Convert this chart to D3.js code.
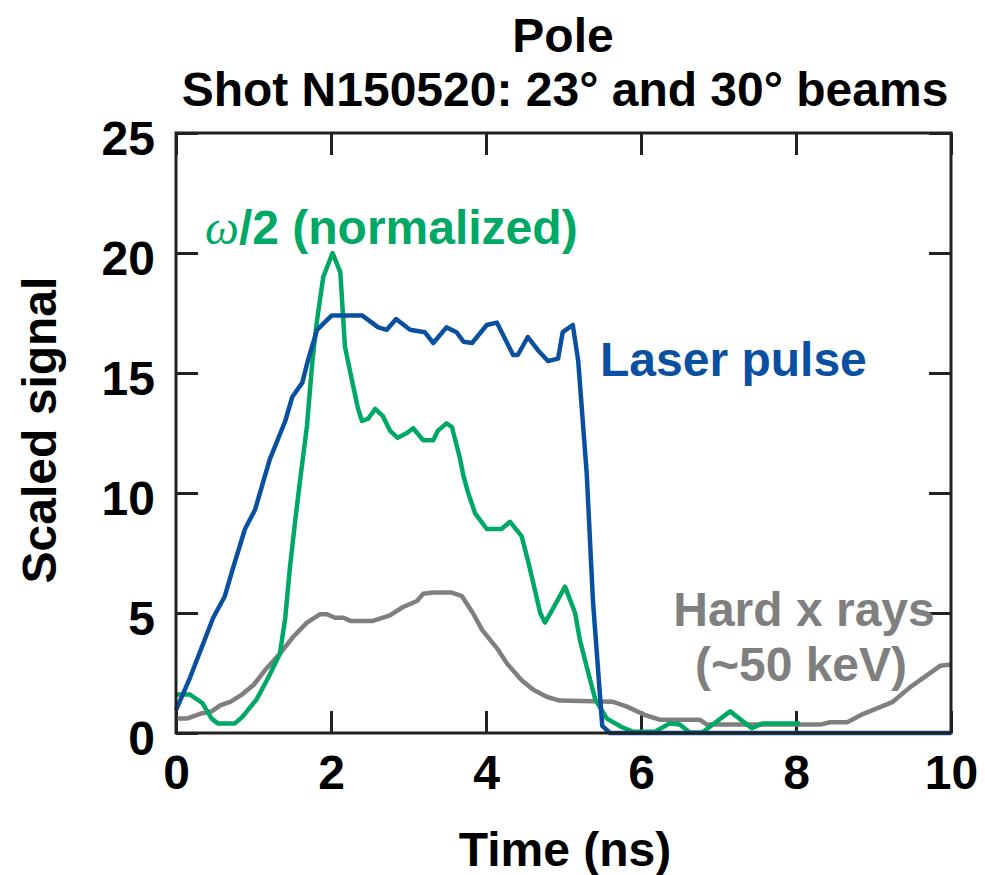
<!DOCTYPE html>
<html><head><meta charset="utf-8">
<script src="https://cdn.jsdelivr.net/npm/d3@7"></script>
<style>body{margin:0;background:#fff}svg{display:block}text{font-family:"Liberation Sans",Arial,Helvetica,sans-serif;font-weight:bold}</style>
</head><body><svg id="c" width="985" height="875"></svg>
<script>
const xTicks=[0,2,4,6,8,10];
const yTicks=[0,5,10,15,20,25];
const laserT=[0,0.18,0.48,0.63,0.72,0.89,1.02,1.21,1.41,1.50,1.63,1.70,1.82,2.01,2.40,2.61,2.72,2.84,3.02,3.21,3.32,3.49,3.62,3.71,3.82,4.01,4.14,4.35,4.41,4.54,4.67,4.80,4.93,4.99,5.12,5.19,5.30,5.38,5.50,5.6,10];
const laserV=[0.95,2.3,4.8,5.7,6.7,8.5,9.3,11.4,13.0,14.0,14.6,15.5,16.8,17.4,17.4,16.9,16.8,17.25,16.8,16.7,16.25,16.9,16.7,16.3,16.25,17.0,17.1,15.75,15.75,16.5,15.95,15.5,15.6,16.7,17.0,15.5,10.8,5.5,0.3,0,0];
const omegaT=[0,0.18,0.34,0.46,0.54,0.76,0.85,1.04,1.19,1.34,1.41,1.47,1.54,1.60,1.69,1.76,1.82,1.90,2.02,2.12,2.18,2.27,2.35,2.40,2.48,2.57,2.67,2.76,2.86,2.98,3.06,3.19,3.32,3.38,3.49,3.56,3.66,3.71,3.77,3.86,4.01,4.20,4.31,4.46,4.54,4.61,4.70,4.76,4.85,5.02,5.15,5.21,5.30,5.41,5.56,5.75,5.90,6.18,6.37,6.50,6.63,6.79,7.15,7.43,7.57,8.05];
const omegaV=[1.6,1.6,1.25,0.6,0.4,0.4,0.65,1.4,2.3,3.3,4.8,6.9,8.9,10.5,12.8,15.5,17.2,19.0,20.0,19.2,16.1,14.7,13.5,13.0,13.1,13.5,13.2,12.6,12.3,12.5,12.7,12.2,12.2,12.6,12.9,12.75,11.5,10.7,10.0,9.15,8.5,8.5,8.8,8.2,7.2,6.25,5.0,4.6,5.1,6.1,5.0,3.9,2.75,1.4,0.6,0.25,0.05,0.05,0.4,0.35,0.02,0.02,0.9,0.2,0.4,0.4];
const hxrT=[0,0.14,0.31,0.46,0.57,0.70,0.85,1.0,1.17,1.34,1.51,1.69,1.86,1.95,2.05,2.16,2.25,2.54,2.76,2.93,3.11,3.19,3.32,3.56,3.69,3.83,3.95,4.16,4.27,4.46,4.61,4.79,4.95,5.64,5.82,6.05,6.25,6.76,6.85,8.31,8.44,8.66,8.87,9.25,9.47,9.86,10];
const hxrV=[0.6,0.6,0.8,0.9,1.15,1.3,1.6,2.0,2.7,3.3,4.0,4.6,4.95,4.95,4.8,4.8,4.67,4.67,4.9,5.25,5.5,5.8,5.85,5.85,5.7,5.0,4.3,3.45,2.9,2.2,1.8,1.5,1.35,1.3,1.1,0.75,0.55,0.55,0.35,0.35,0.45,0.45,0.8,1.3,1.9,2.8,2.85];

const svg=d3.select('#c');
const L=176,R=951,T=133,B=733;
const x=d3.scaleLinear().domain([0,10]).range([L,R]);
const y=d3.scaleLinear().domain([0,25]).range([B,T]);
const line=d3.line().x(d=>x(d[0])).y(d=>y(d[1]));
const zip=(a,b)=>a.map((v,i)=>[v,b[i]]);

const series=[
 {t:hxrT,v:hxrV,c:'#7f7f7f'},
 {t:omegaT,v:omegaV,c:'#00a866'},
 {t:laserT,v:laserV,c:'#0a50a0'}
];

const tk=22, fs=48;
const axB=d3.axisBottom(x).tickValues(xTicks).tickSize(-tk).tickPadding(22).tickSizeOuter(0);
const axT=d3.axisTop(x).tickValues(xTicks).tickSize(-tk).tickFormat('').tickSizeOuter(0);
const axL=d3.axisLeft(y).tickValues(yTicks).tickSize(-tk).tickPadding(21).tickSizeOuter(0);
const axR=d3.axisRight(y).tickValues(yTicks).tickSize(-tk).tickFormat('').tickSizeOuter(0);
[[axB,`translate(0,${B})`,'b'],[axT,`translate(0,${T})`,'t'],[axL,`translate(${L},0)`,'l'],[axR,`translate(${R},0)`,'r']].forEach(([ax,tr,k])=>{
  const g=svg.append('g').attr('transform',tr).call(ax);
  g.select('.domain').remove();
  g.selectAll('.tick line').attr('stroke','#222').attr('stroke-width',3);
  g.selectAll('.tick text').attr('font-size',fs).attr('fill','#000').style('font-family','"Liberation Sans",Arial,sans-serif').style('font-weight','bold');
  if(k==='l') g.selectAll('.tick text').attr('dy','0.45em');
});

series.forEach(s=>{
  svg.append('path').datum(zip(s.t,s.v)).attr('d',line).attr('fill','none')
    .attr('stroke',s.c).attr('stroke-width',4.5).attr('stroke-linejoin','round');
});

svg.append('rect').attr('x',L).attr('y',T).attr('width',R-L).attr('height',B-T)
  .attr('fill','none').attr('stroke','#222').attr('stroke-width',3);

svg.append('text').attr('x',563).attr('y',52).attr('text-anchor','middle').attr('font-size',fs).text('Pole');
svg.append('text').attr('x',565).attr('y',106).attr('text-anchor','middle').attr('font-size',fs).text('Shot N150520: 23° and 30° beams');
svg.append('text').attr('x',565).attr('y',866).attr('text-anchor','middle').attr('font-size',fs).text('Time (ns)');
svg.append('text').attr('transform','translate(56,430) rotate(-90)').attr('text-anchor','middle').attr('font-size',fs).text('Scaled signal');

const om=svg.append('text').attr('x',205).attr('y',244).attr('font-size',fs).attr('fill','#00a866');
om.append('tspan').attr('font-style','italic').attr('font-weight','normal').style('font-family','"Liberation Serif","DejaVu Serif",serif').text('ω');
om.append('tspan').text('/2 (normalized)');
svg.append('text').attr('x',600).attr('y',376).attr('font-size',fs).attr('fill','#0a50a0').text('Laser pulse');
svg.append('text').attr('x',804).attr('y',626).attr('text-anchor','middle').attr('font-size',fs).attr('fill','#7f7f7f').text('Hard x rays');
svg.append('text').attr('x',801).attr('y',681).attr('text-anchor','middle').attr('font-size',fs).attr('fill','#7f7f7f').text('(~50 keV)');
</script></body></html>
